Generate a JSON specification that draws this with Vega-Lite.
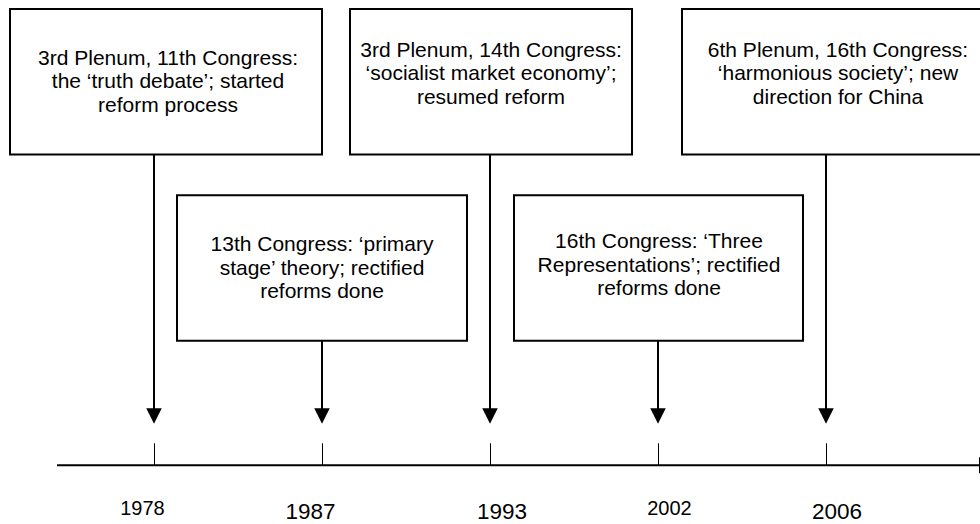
{
  "$schema": "https://vega.github.io/schema/vega-lite/v6.json",
  "width": 980,
  "height": 524,
  "autosize": {"type": "fit", "contains": "padding"},
  "padding": 0,
  "background": "white",
  "config": {"view": {"stroke": null}},
  "datasets": {
    "events": [
      {"year": "1978", "cls": "small", "label": "3rd Plenum, 11th Congress:\nthe ‘truth debate’; started\nreform process", "stem": 154, "bx0": 10, "bx1": 322, "by0": 9, "by1": 155, "tx": 168, "ty": 65, "lx": 142.5, "ly": 517, "stemEnd": 411, "headY": 417.5, "tickTop": 445, "axisY": 467},
      {"year": "1987", "cls": "large", "label": "13th Congress: ‘primary\nstage’ theory; rectified\nreforms done", "stem": 322, "bx0": 177, "bx1": 467, "by0": 196, "by1": 342, "tx": 322, "ty": 252, "lx": 310.5, "ly": 521, "stemEnd": 411, "headY": 417.5, "tickTop": 445, "axisY": 467},
      {"year": "1993", "cls": "large", "label": "3rd Plenum, 14th Congress:\n‘socialist market economy’;\nresumed reform", "stem": 490, "bx0": 350, "bx1": 632, "by0": 9, "by1": 155, "tx": 491, "ty": 57, "lx": 502, "ly": 521, "stemEnd": 411, "headY": 417.5, "tickTop": 445, "axisY": 467},
      {"year": "2002", "cls": "small", "label": "16th Congress: ‘Three\nRepresentations’; rectified\nreforms done", "stem": 658, "bx0": 514, "bx1": 803, "by0": 196, "by1": 342, "tx": 659, "ty": 249, "lx": 669.5, "ly": 517, "stemEnd": 411, "headY": 417.5, "tickTop": 445, "axisY": 467},
      {"year": "2006", "cls": "large", "label": "6th Plenum, 16th Congress:\n‘harmonious society’; new\ndirection for China", "stem": 826, "bx0": 682, "bx1": 995, "by0": 9, "by1": 155, "tx": 838, "ty": 57, "lx": 837, "ly": 521, "stemEnd": 411, "headY": 417.5, "tickTop": 445, "axisY": 467}
    ],
    "timeline": [
      {"x0": 57, "x1": 979, "y": 467, "endTop": 459, "endBottom": 475}
    ]
  },
  "layer": [
    {
      "data": {"name": "events"},
      "mark": {"type": "rect", "fill": "white", "stroke": "black", "strokeWidth": 2, "clip": true},
      "encoding": {
        "x": {"field": "bx0", "type": "quantitative", "scale": {"domain": [0, 980], "nice": false, "zero": false}, "axis": null},
        "x2": {"field": "bx1"},
        "y": {"field": "by0", "type": "quantitative", "scale": {"domain": [0, 524], "reverse": true, "nice": false, "zero": false}, "axis": null},
        "y2": {"field": "by1"}
      }
    },
    {
      "data": {"name": "events"},
      "mark": {"type": "text", "font": "Liberation Sans", "fontSize": 21, "lineHeight": 23.5, "lineBreak": "\n", "align": "center", "baseline": "alphabetic", "color": "black"},
      "encoding": {
        "x": {"field": "tx", "type": "quantitative", "scale": {"domain": [0, 980], "nice": false, "zero": false}, "axis": null},
        "y": {"field": "ty", "type": "quantitative", "scale": {"domain": [0, 524], "reverse": true, "nice": false, "zero": false}, "axis": null},
        "text": {"field": "label", "type": "nominal"}
      }
    },
    {
      "data": {"name": "events"},
      "mark": {"type": "rule", "color": "black", "strokeWidth": 2},
      "encoding": {
        "x": {"field": "stem", "type": "quantitative", "scale": {"domain": [0, 980], "nice": false, "zero": false}, "axis": null},
        "y": {"field": "by1", "type": "quantitative", "scale": {"domain": [0, 524], "reverse": true, "nice": false, "zero": false}, "axis": null},
        "y2": {"field": "stemEnd"}
      }
    },
    {
      "data": {"name": "events"},
      "mark": {"type": "point", "shape": "M-1,-1L1,-1L0,1Z", "filled": true, "color": "black", "opacity": 1, "size": 240, "strokeWidth": 0},
      "encoding": {
        "x": {"field": "stem", "type": "quantitative", "scale": {"domain": [0, 980], "nice": false, "zero": false}, "axis": null},
        "y": {"field": "headY", "type": "quantitative", "scale": {"domain": [0, 524], "reverse": true, "nice": false, "zero": false}, "axis": null}
      }
    },
    {
      "data": {"name": "events"},
      "mark": {"type": "rule", "color": "black", "strokeWidth": 1, "xOffset": 0.5},
      "encoding": {
        "x": {"field": "stem", "type": "quantitative", "scale": {"domain": [0, 980], "nice": false, "zero": false}, "axis": null},
        "y": {"field": "tickTop", "type": "quantitative", "scale": {"domain": [0, 524], "reverse": true, "nice": false, "zero": false}, "axis": null},
        "y2": {"field": "axisY"}
      }
    },
    {
      "data": {"name": "timeline"},
      "mark": {"type": "rule", "color": "black", "strokeWidth": 2},
      "encoding": {
        "x": {"field": "x0", "type": "quantitative", "scale": {"domain": [0, 980], "nice": false, "zero": false}, "axis": null},
        "x2": {"field": "x1"},
        "y": {"field": "y", "type": "quantitative", "scale": {"domain": [0, 524], "reverse": true, "nice": false, "zero": false}, "axis": null}
      }
    },
    {
      "data": {"name": "timeline"},
      "mark": {"type": "rule", "color": "black", "strokeWidth": 1, "xOffset": 0.5},
      "encoding": {
        "x": {"field": "x1", "type": "quantitative", "scale": {"domain": [0, 980], "nice": false, "zero": false}, "axis": null},
        "y": {"field": "endTop", "type": "quantitative", "scale": {"domain": [0, 524], "reverse": true, "nice": false, "zero": false}, "axis": null},
        "y2": {"field": "endBottom"}
      }
    },
    {
      "data": {"name": "events"},
      "mark": {"type": "text", "font": "Liberation Sans", "align": "center", "baseline": "alphabetic", "color": "black"},
      "encoding": {
        "x": {"field": "lx", "type": "quantitative", "scale": {"domain": [0, 980], "nice": false, "zero": false}, "axis": null},
        "y": {"field": "ly", "type": "quantitative", "scale": {"domain": [0, 524], "reverse": true, "nice": false, "zero": false}, "axis": null},
        "text": {"field": "year", "type": "nominal"},
        "size": {"field": "cls", "type": "ordinal", "scale": {"domain": ["small", "large"], "range": [20, 22.5]}, "legend": null}
      }
    }
  ]
}
